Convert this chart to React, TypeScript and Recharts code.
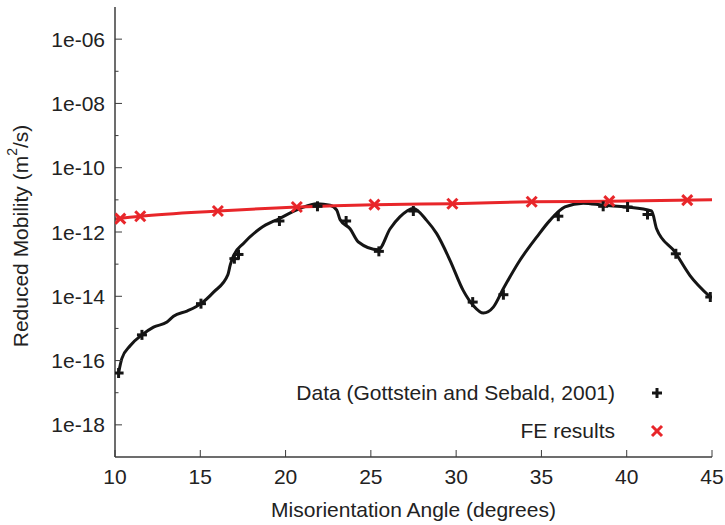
import { ComposedChart, Line, Scatter, XAxis, YAxis, Legend, Label } from "recharts";

const FONT = '"Liberation Sans", Arial, Helvetica, sans-serif';
const TEXT = "#222";
const FRAME = "#3c3c3c";
const BLACK = "#151515";
const RED = "#e8262a";

// black curve through the measured data
const curveAngle = [
  10.21, 10.4, 10.9, 11.58, 12.26, 13.05, 13.43, 14.22, 15.04, 15.78, 16.62, 16.75, 16.95, 17.53,
  18.51, 19.64, 20.86, 21.83, 22.61, 23.0, 23.2, 23.78, 24.27, 25.44, 26.13, 26.7, 27.49, 28.27,
  28.86, 29.64, 30.42, 31.0, 31.6, 32.18, 32.77, 33.74, 34.72, 35.5, 36.38, 37.45, 38.62, 39.99,
  41.46, 41.75, 42.82, 43.7, 44.9,
];
const curveMobility = [
  4.1e-17, 1.15e-16, 2.95e-16, 6.3e-16, 1.1e-15, 1.58e-15, 2.4e-15, 3.47e-15, 5.9e-15, 1.35e-14,
  4.7e-14, 9.1e-14, 1.86e-13, 4.4e-13, 1.29e-12, 2.63e-12, 5.4e-12, 7.6e-12, 6.8e-12, 4.8e-12,
  2.4e-12, 1.26e-12, 4.9e-13, 2.8e-13, 1.26e-12, 2.95e-12, 5.4e-12, 2.3e-12, 8.9e-13, 1.32e-13,
  1.5e-14, 5.2e-15, 3.0e-15, 4.6e-15, 1.74e-14, 1.32e-13, 6.9e-13, 2.3e-12, 6.0e-12, 7.9e-12,
  6.8e-12, 6.0e-12, 4.5e-12, 1.26e-12, 2.4e-13, 4.5e-14, 9.5e-15,
];

// Gottstein and Sebald (2001) points
const dataAngle = [
  10.21, 11.58, 15.04, 17.0, 17.24, 19.64, 21.87, 23.55, 25.47, 27.49, 30.97, 32.77, 35.99, 38.62,
  40.05, 41.22, 42.88, 44.9,
];
const dataMobility = [
  4.1e-17, 6.3e-16, 5.9e-15, 1.48e-13, 2.0e-13, 2.2e-12, 6.3e-12, 2.2e-12, 2.5e-13, 4.5e-12, 6.6e-15,
  1.12e-14, 3.1e-12, 6.3e-12, 6.0e-12, 3.5e-12, 2.1e-13, 9.5e-15,
];

// FE results
const feAngle = [10.31, 11.48, 16.03, 20.66, 25.21, 29.78, 34.43, 38.98, 43.55];
const feMobility = [2.6e-12, 3.1e-12, 4.5e-12, 6.0e-12, 7.1e-12, 7.6e-12, 8.7e-12, 9.1e-12, 9.8e-12];

// red fit curve
const fitAngle = [10, 11.48, 16.03, 20.66, 25.21, 29.78, 34.43, 38.98, 45];
const fitMobility = [2.55e-12, 3.1e-12, 4.5e-12, 6.0e-12, 7.1e-12, 7.6e-12, 8.7e-12, 9.1e-12, 1.0e-11];

const xTicks = [10, 15, 20, 25, 30, 35, 40, 45];
const yTicks = [1e-6, 1e-7, 1e-8, 1e-9, 1e-10, 1e-11, 1e-12, 1e-13, 1e-14, 1e-15, 1e-16, 1e-17, 1e-18];
const legendLabels = ["Data (Gottstein and Sebald, 2001)", "FE results"];

const zip = (xs: number[], ys: number[]) => xs.map((angle, i) => ({ angle, mobility: ys[i] }));

const curve = zip(curveAngle, curveMobility);
const points = zip(dataAngle, dataMobility);
const fe = zip(feAngle, feMobility);
const fit = zip(fitAngle, fitMobility);

const TICK = 7;
const ARM = 5;

const expOf = (v: number) => Math.round(Math.log10(v));
const tickLen = (v: number) => (expOf(v) % 2 === 0 ? TICK : TICK / 2);

function LeftTick({ x, y, payload }: any) {
  const exp = expOf(payload.value);
  const ax = x + 10;
  return (
    <g>
      <line x1={ax} x2={ax + tickLen(payload.value)} y1={y} y2={y} stroke={FRAME} strokeWidth={1} />
      {exp % 2 === 0 && (
        <text x={x} y={y} textAnchor="end" dominantBaseline="central" fill={TEXT} fontSize={21} fontFamily={FONT}>
          {`1e-${String(-exp).padStart(2, "0")}`}
        </text>
      )}
    </g>
  );
}

function RightTick({ x, y, payload }: any) {
  return <line x1={x} x2={x - tickLen(payload.value)} y1={y} y2={y} stroke={FRAME} strokeWidth={1} />;
}

function BottomTick({ x, y, payload }: any) {
  return (
    <g>
      <line x1={x} x2={x} y1={y - 19} y2={y - 19 - TICK} stroke={FRAME} strokeWidth={1} />
      <text x={x} y={y} textAnchor="middle" dominantBaseline="central" fill={TEXT} fontSize={21} fontFamily={FONT}>
        {payload.value}
      </text>
    </g>
  );
}

function TopTick({ x, y }: any) {
  return <line x1={x} x2={x} y1={y} y2={y + TICK} stroke={FRAME} strokeWidth={1} />;
}

function Plus({ cx, cy }: any) {
  return (
    <g stroke={BLACK} strokeWidth={3}>
      <line x1={cx - ARM} x2={cx + ARM} y1={cy} y2={cy} />
      <line x1={cx} x2={cx} y1={cy - ARM} y2={cy + ARM} />
    </g>
  );
}

function Cross({ cx, cy }: any) {
  return (
    <g stroke={RED} strokeWidth={3}>
      <line x1={cx - ARM} x2={cx + ARM} y1={cy - ARM} y2={cy + ARM} />
      <line x1={cx - ARM} x2={cx + ARM} y1={cy + ARM} y2={cy - ARM} />
    </g>
  );
}

function LegendBox() {
  return (
    <div style={{ position: "relative", width: 725, height: 76, fontFamily: FONT, fontSize: 21, color: TEXT }}>
      {legendLabels.map((label, i) => (
        <div key={label}>
          <div
            style={{
              position: "absolute",
              right: 725 - 615,
              top: i * 38,
              height: 26,
              lineHeight: "26px",
              whiteSpace: "nowrap",
            }}
          >
            {label}
          </div>
          <svg width={20} height={26} style={{ position: "absolute", left: 647, top: i * 38 }}>
            {i === 0 ? <Plus cx={10} cy={13} /> : <Cross cx={10} cy={13} />}
          </svg>
        </div>
      ))}
    </div>
  );
}

export default function App() {
  return (
    <div style={{ position: "absolute", left: 0, top: 0, background: "#fff" }}>
      <ComposedChart width={725} height={525} margin={{ top: 7, right: 13, left: 0, bottom: 0 }}>
        <XAxis
          dataKey="angle"
          type="number"
          domain={[10, 45]}
          ticks={xTicks}
          allowDataOverflow
          height={68}
          tickSize={0}
          tickMargin={19}
          tick={<BottomTick />}
          axisLine={{ stroke: FRAME, strokeWidth: 1.5 }}
        >
          <Label
            content={() => (
              <text x={413.5} y={509} textAnchor="middle" dominantBaseline="central" fill={TEXT} fontSize={21} fontFamily={FONT}>
                Misorientation Angle (degrees)
              </text>
            )}
          />
        </XAxis>
        <XAxis
          xAxisId="top"
          orientation="top"
          dataKey="angle"
          type="number"
          domain={[10, 45]}
          ticks={xTicks}
          allowDataOverflow
          height={0}
          tickSize={0}
          tickMargin={0}
          tick={<TopTick />}
          axisLine={{ stroke: FRAME, strokeWidth: 1.5 }}
        />
        <YAxis
          scale="log"
          type="number"
          domain={[1e-19, 1e-5]}
          ticks={yTicks}
          allowDataOverflow
          width={115}
          tickSize={0}
          tickMargin={10}
          tick={<LeftTick />}
          axisLine={{ stroke: FRAME, strokeWidth: 1.5 }}
        >
          <Label
            content={() => (
              <text
                x={20}
                y={236}
                transform="rotate(-90 20 236)"
                textAnchor="middle"
                dominantBaseline="central"
                fill={TEXT}
                fontSize={21}
                fontFamily={FONT}
              >
                Reduced Mobility (m
                <tspan dy={-8} fontSize={14}>2</tspan>
                <tspan dy={8}>/s)</tspan>
              </text>
            )}
          />
        </YAxis>
        <YAxis
          yAxisId="right"
          orientation="right"
          scale="log"
          type="number"
          domain={[1e-19, 1e-5]}
          ticks={yTicks}
          allowDataOverflow
          width={0}
          tickSize={0}
          tickMargin={0}
          tick={<RightTick />}
          axisLine={{ stroke: FRAME, strokeWidth: 1.5 }}
        />
        <Legend
          layout="horizontal"
          verticalAlign="middle"
          align="center"
          wrapperStyle={{ left: 0, top: 380, width: 725, height: 76 }}
          content={() => <LegendBox />}
        />
        <Line
          data={curve}
          dataKey="mobility"
          type="monotone"
          stroke={BLACK}
          strokeWidth={3}
          dot={false}
          activeDot={false}
          isAnimationActive={false}
        />
        <Scatter data={points} dataKey="mobility" shape={<Plus />} isAnimationActive={false} />
        <Line
          data={fit}
          dataKey="mobility"
          type="monotone"
          stroke={RED}
          strokeWidth={3}
          dot={false}
          activeDot={false}
          isAnimationActive={false}
        />
        <Scatter data={fe} dataKey="mobility" shape={<Cross />} isAnimationActive={false} />
      </ComposedChart>
    </div>
  );
}
